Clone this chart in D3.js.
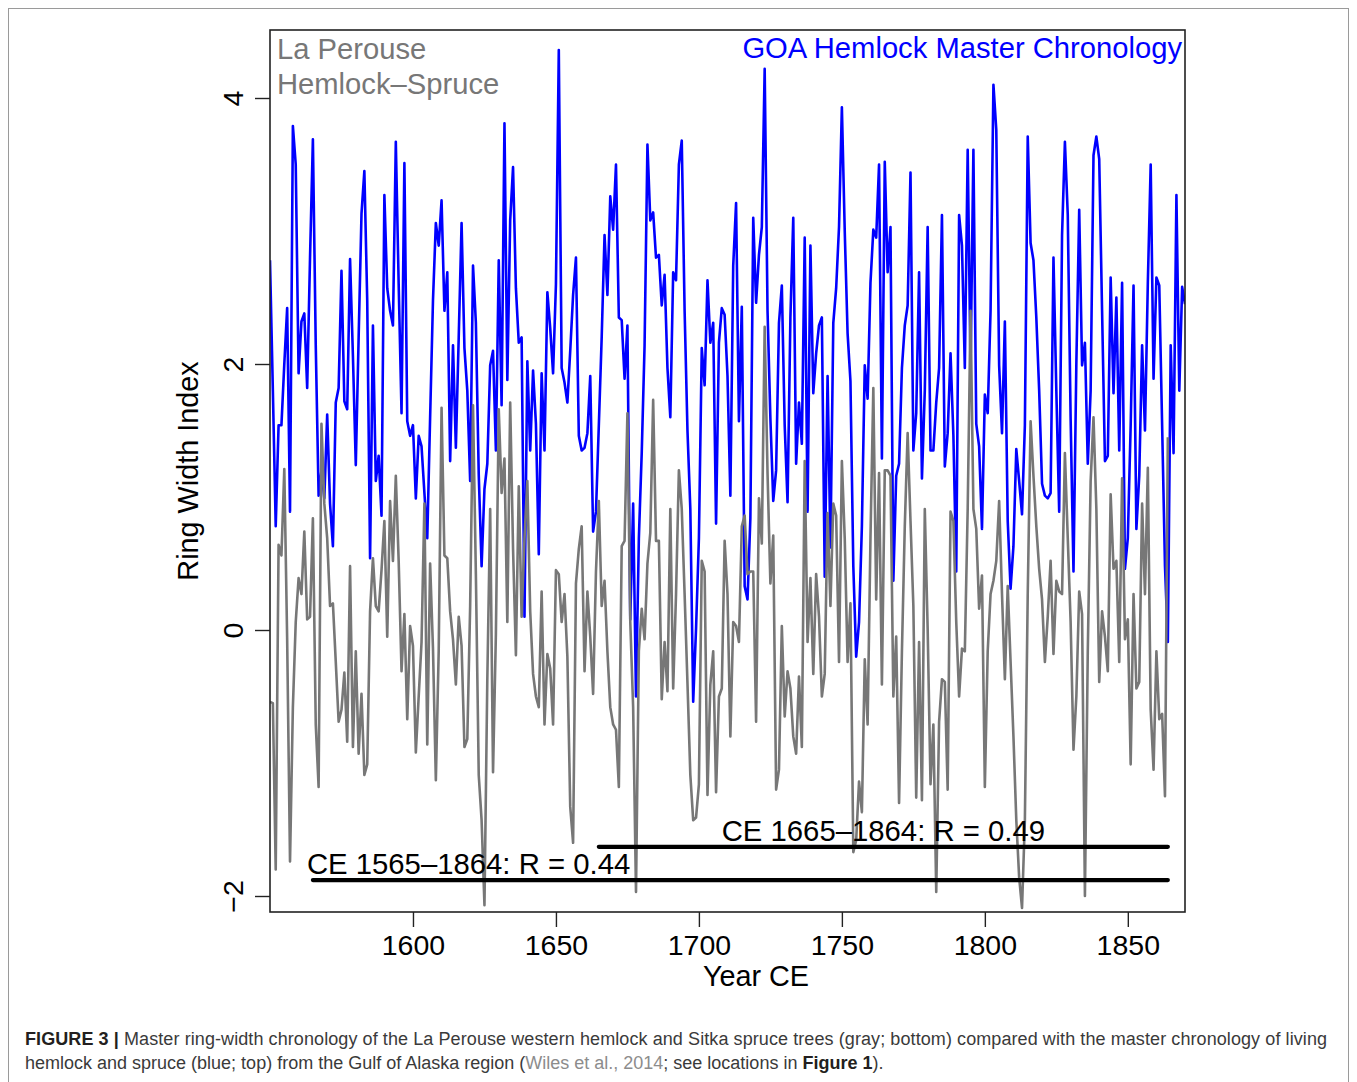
<!DOCTYPE html>
<html>
<head>
<meta charset="utf-8">
<script src="https://cdn.jsdelivr.net/npm/d3@7"></script>
<style>
  body { margin: 0; background: #fff; }
  svg { display: block; font-family: "Liberation Sans", Arial, Helvetica, sans-serif; }
</style>
</head>
<body>
<svg id="fig" width="1357" height="1082"></svg>
<script>

// GOA hemlock master chronology (blue), one value per year from 1550
var goaStart = 1550;
var goaIndex = [
  2.78, 1.8, 0.78, 1.54, 1.54, 2.0, 2.42, 0.89, 3.79, 3.50, 1.93, 2.32, 2.38, 1.82, 2.8, 3.69, 2.14, 1.01, 1.20, 0.99,
  1.62, 0.95, 0.63, 1.71, 1.82, 2.70, 1.72, 1.66, 2.79, 2.06, 1.24, 2.2, 3.13, 3.45, 2.48, 0.54, 2.29, 1.12, 1.31, 0.86,
  3.27, 2.57, 2.4, 2.29, 3.67, 2.6, 1.63, 3.51, 1.57, 1.46, 1.54, 0.99, 1.46, 1.38, 1.03, 0.69, 1.6, 2.48, 3.06, 2.89,
  3.23, 2.40, 2.69, 1.27, 2.14, 1.37, 2.2, 3.06, 2.12, 1.8, 1.12, 2.74, 2.31, 1.17, 0.48, 1.06, 1.25, 1.99, 2.10, 1.35,
  2.78, 1.69, 3.81, 1.88, 3.08, 3.48, 2.57, 2.16, 2.20, 0.10, 2.02, 1.35, 1.95, 1.55, 0.57, 1.93, 1.35, 2.54, 2.27, 1.93,
  2.6, 4.36, 1.97, 1.86, 1.71, 2.1, 2.52, 2.80, 1.46, 1.35, 1.37, 1.48, 1.91, 0.74, 0.89, 1.54, 2.2, 2.97, 2.52, 3.26,
  3.01, 3.50, 2.35, 2.33, 1.89, 2.29, 0.08, 0.95, -0.50, 0.69, 1.33, 2.14, 3.65, 3.08, 3.14, 2.80, 2.82, 2.44, 2.67, 1.97,
  1.60, 2.69, 2.63, 3.50, 3.68, 2.40, 1.5, 0.91, -0.54, 0.01, 0.69, 2.12, 1.84, 2.63, 2.16, 2.31, 0.80, 2.16, 2.42, 2.37,
  1.91, 1.01, 2.74, 3.21, 1.57, 2.43, 0.33, 0.23, 0.84, 3.10, 2.46, 2.82, 3.03, 4.22, 2.40, 1.59, 0.97, 1.20, 2.31, 2.59,
  1.54, 0.96, 2.35, 3.10, 1.25, 1.71, 1.40, 2.95, 0.89, 2.89, 1.78, 2.08, 2.29, 2.35, 0.40, 1.91, 0.62, 2.31, 2.57, 3.03,
  3.93, 3.0, 2.23, 1.87, 0.48, -0.20, 0.06, 0.78, 1.99, 1.74, 2.61, 3.01, 2.95, 3.50, 1.29, 3.52, 2.69, 3.03, 0.37, 1.16,
  1.25, 1.97, 2.29, 2.44, 3.44, 1.35, 1.63, 2.69, 1.14, 1.80, 3.03, 1.35, 1.35, 1.71, 1.97, 3.12, 1.23, 1.48, 2.08, 1.46,
  0.44, 3.12, 2.89, 1.97, 3.61, 1.97, 3.61, 1.55, 1.38, 0.76, 1.77, 1.63, 2.4, 4.10, 3.76, 1.99, 1.48, 2.32, 0.82, 0.31,
  0.63, 1.36, 1.12, 0.87, 1.54, 3.71, 2.91, 2.78, 2.35, 1.80, 1.10, 1.01, 0.99, 1.03, 2.80, 1.80, 0.89, 2.97, 3.67, 3.12,
  1.59, 0.44, 2.0, 3.16, 1.99, 2.16, 1.25, 1.80, 3.57, 3.71, 3.54, 2.40, 1.27, 1.31, 2.65, 1.78, 2.50, 1.35, 2.61, 0.46,
  0.69, 1.54, 2.59, 0.76, 1.16, 2.14, 1.50, 2.61, 3.50, 1.89, 2.65, 2.59, 1.54, 0.48, -0.09, 2.14, 1.33, 3.27, 1.80, 2.58,
  2.45
];

// La Perouse hemlock-spruce chronology (gray), one value per year from 1550
var lpStart = 1550;
var lpIndex = [
  -0.54, -0.55, -1.80, 0.64, 0.56, 1.21, -0.07, -1.74, -0.58, 0.06, 0.39, 0.27, 0.74, 0.08, 0.10, 0.84, -0.71, -1.18, 1.55, 0.95,
  0.69, 0.18, 0.20, -0.24, -0.69, -0.60, -0.32, -0.84, 0.48, -0.88, -0.16, -0.93, -0.48, -1.09, -1.01, 0.14, 0.54, 0.18, 0.14, 0.45,
  0.82, -0.05, 0.97, 0.52, 1.16, 0.52, -0.31, 0.12, -0.67, 0.03, -0.12, -0.92, -0.50, -0.09, 0.95, -0.86, 0.50, -0.14, -1.13, -0.16,
  1.67, 0.56, 0.54, 0.14, -0.07, -0.41, 0.10, -0.12, -0.88, -0.82, 0.18, 1.69, 0.42, -1.09, -1.43, -2.07, -0.37, 0.91, -1.07, -0.03,
  1.66, 1.03, 1.29, 0.06, 1.71, 0.61, -0.19, 1.08, 0.10, 0.69, 1.12, 0.14, -0.33, -0.50, -0.58, 0.29, -0.71, -0.18, -0.29, -0.71,
  0.45, 0.42, 0.06, 0.27, -0.20, -1.33, -1.60, 0.35, 0.61, 0.78, -0.31, 0.29, -0.05, -0.48, 0.44, 0.97, 0.18, 0.37, -0.16, -0.58,
  -0.71, -0.75, -1.18, 0.63, 0.67, 1.63, 0.06, -0.58, -1.97, -0.16, 0.16, -0.07, 0.50, 0.73, 1.73, 0.67, 0.67, -0.52, -0.09, -0.46,
  0.91, -0.44, 0.27, 1.20, 0.91, 0.27, -0.4, -1.09, -1.43, -1.41, -1.16, 0.52, 0.44, -1.24, -0.41, -0.16, -1.22, -0.50, -0.44, 0.67,
  0.27, -0.80, 0.06, 0.03, -0.09, 0.78, 0.86, 0.42, 0.44, 0.44, -0.69, 0.99, 0.65, 2.28, 1.18, 0.35, 0.71, -1.20, -1.05, 0.03,
  -0.65, -0.31, -0.44, -0.80, -0.93, -0.35, -0.88, 1.27, -0.09, 0.39, -0.33, 0.42, 0.10, -0.50, -0.33, 0.88, 0.18, 0.95, 0.86, -0.24,
  1.27, 0.69, -0.24, 0.20, -1.67, -1.58, -1.14, -1.37, -0.22, -0.71, 0.69, 1.82, 0.23, 1.18, -0.41, 1.20, 1.20, 1.16, -0.50, -0.05,
  -1.30, -0.16, 0.78, 1.48, 0.82, 0.18, -1.26, -0.09, -1.28, 0.91, 0.01, -1.16, -0.71, -1.97, -0.69, -0.37, -0.39, -1.20, 0.89, 0.82,
  0.06, -0.5, -0.14, -0.16, 0.91, 2.40, 0.91, 0.76, 0.16, 0.41, -1.18, -0.16, 0.27, 0.37, 0.52, 0.97, 0.27, -0.37, 0.33, -0.24,
  -0.80, -1.43, -1.86, -2.09, -1.43, 0.27, 1.57, 1.16, 0.78, 0.46, 0.23, -0.24, 0.10, 0.52, -0.18, 0.37, 0.29, 0.27, 1.33, 0.69,
  0.06, -0.9, -0.5, 0.29, 0.12, -2.0, -0.16, 1.12, 1.60, 0.91, -0.39, 0.14, -0.05, -0.31, 1.02, 0.46, 0.52, -0.24, 1.14, -0.07,
  0.08, -1.01, 0.27, -0.44, -0.39, 0.95, 0.27, 1.22, -0.60, -1.05, -0.16, -0.67, -0.63, -1.25, 1.45
];

var xTicks = [1600, 1650, 1700, 1750, 1800, 1850];
var yTicks = [-2, 0, 2, 4];

// correlation periods
var periodLabels = ['CE 1565\u20131864: R = 0.44', 'CE 1665\u20131864: R = 0.49'];
var periodStart = [1565, 1665];
var periodEnd = [1864, 1864];

var seriesNames = ['La Perouse', 'Hemlock\u2013Spruce'];
var goaName = 'GOA Hemlock Master Chronology';

var blue = '#0000ff', gray = '#777777';

var svg = d3.select('#fig');
var box = {left: 270, right: 1185, top: 30, bottom: 912};

var x = d3.scaleLinear().domain([1550, 1870]).range([box.left, box.right]);
var y = d3.scaleLinear().domain([-2, 4]).range([896, 98]);

// figure frame
svg.append('rect')
  .attr('x', 8.5).attr('y', 8.5)
  .attr('width', 1340).attr('height', 1090)
  .attr('fill', 'none').attr('stroke', '#9a9a9a').attr('stroke-width', 1);

svg.append('clipPath').attr('id', 'plotclip')
  .append('rect')
  .attr('x', box.left).attr('y', box.top)
  .attr('width', box.right - box.left).attr('height', box.bottom - box.top);

var plot = svg.append('g').attr('clip-path', 'url(#plotclip)');

var line = d3.line()
  .x(function(d) { return x(d[0]); })
  .y(function(d) { return y(d[1]); });

function toPairs(start, vals) {
  return vals.map(function(v, i) { return [start + i, v]; });
}

plot.append('path')
  .datum(toPairs(goaStart, goaIndex))
  .attr('d', line)
  .attr('fill', 'none').attr('stroke', blue).attr('stroke-width', 2.6)
  .attr('stroke-linejoin', 'round');

plot.append('path')
  .datum(toPairs(lpStart, lpIndex))
  .attr('d', line)
  .attr('fill', 'none').attr('stroke', gray).attr('stroke-width', 2.6)
  .attr('stroke-linejoin', 'round');

// correlation period bars
var barLevel = [-1.88, -1.63];
periodLabels.forEach(function(lab, i) {
  svg.append('line')
    .attr('x1', x(periodStart[i])).attr('x2', x(periodEnd[i]))
    .attr('y1', y(barLevel[i])).attr('y2', y(barLevel[i]))
    .attr('stroke', '#000').attr('stroke-width', 4.2).attr('stroke-linecap', 'round');
});
svg.append('text')
  .attr('x', x(periodStart[0]) - 6).attr('y', y(barLevel[0]) - 6)
  .attr('font-size', 29.3).attr('fill', '#000')
  .text(periodLabels[0]);
svg.append('text')
  .attr('x', x((periodStart[1] + periodEnd[1]) / 2)).attr('y', y(barLevel[1]) - 6)
  .attr('text-anchor', 'middle')
  .attr('font-size', 29.3).attr('fill', '#000')
  .text(periodLabels[1]);

// plot box
svg.append('rect')
  .attr('x', box.left).attr('y', box.top)
  .attr('width', box.right - box.left).attr('height', box.bottom - box.top)
  .attr('fill', 'none').attr('stroke', '#222').attr('stroke-width', 1.6);

// axes
var gx = svg.append('g')
  .attr('transform', 'translate(0,' + box.bottom + ')')
  .call(d3.axisBottom(x).tickValues(xTicks).tickFormat(d3.format('d'))
    .tickSize(15).tickSizeOuter(0).tickPadding(4));
gx.select('.domain').remove();
gx.attr('font-family', null);
gx.selectAll('line').attr('stroke', '#222').attr('stroke-width', 1.4);
gx.selectAll('text').attr('font-size', 28.5).attr('fill', '#000')
  .attr('y', 43).attr('dy', null);

var gy = svg.append('g')
  .attr('transform', 'translate(' + box.left + ',0)')
  .call(d3.axisLeft(y).tickValues(yTicks).tickFormat(d3.format('d'))
    .tickSize(15).tickSizeOuter(0));
gy.select('.domain').remove();
gy.attr('font-family', null);
gy.selectAll('line').attr('stroke', '#222').attr('stroke-width', 1.4);
gy.selectAll('text')
  .attr('x', null).attr('dy', null)
  .attr('font-size', 28.5).attr('fill', '#000')
  .attr('text-anchor', 'middle')
  .attr('transform', 'translate(-27,0) rotate(-90)')
  .text(function(d) { return d < 0 ? '\u2212' + Math.abs(d) : d; });

// axis titles
svg.append('text')
  .attr('transform', 'translate(198,' + (box.top + box.bottom) / 2 + ') rotate(-90)')
  .attr('text-anchor', 'middle').attr('font-size', 28.8)
  .text('Ring Width Index');
svg.append('text')
  .attr('x', 756).attr('y', 986)
  .attr('text-anchor', 'middle').attr('font-size', 28.8)
  .text('Year CE');

// series labels
svg.append('text')
  .attr('x', box.left + 7).attr('y', 59)
  .attr('font-size', 29.2).attr('fill', gray)
  .text(seriesNames[0]);
svg.append('text')
  .attr('x', box.left + 7).attr('y', 94)
  .attr('font-size', 29.2).attr('fill', gray)
  .text(seriesNames[1]);
svg.append('text')
  .attr('x', box.right - 3).attr('y', 58)
  .attr('text-anchor', 'end')
  .attr('font-size', 29.2).attr('fill', blue)
  .text(goaName);

// caption
var cap1 = svg.append('text')
  .attr('x', 25).attr('y', 1045).attr('font-size', 18).attr('fill', '#3a3a3a')
  .attr('textLength', 1302).attr('lengthAdjust', 'spacing');
cap1.append('tspan').attr('font-weight', 'bold').attr('fill', '#231f20').text('FIGURE 3 | ');
cap1.append('tspan').text('Master ring-width chronology of the La Perouse western hemlock and Sitka spruce trees (gray; bottom) compared with the master chronology of living');

var cap2 = svg.append('text')
  .attr('x', 25).attr('y', 1069).attr('font-size', 18).attr('fill', '#3a3a3a');
cap2.append('tspan').text('hemlock and spruce (blue; top) from the Gulf of Alaska region (');
cap2.append('tspan').attr('fill', '#8c8c8c').text('Wiles et al., 2014');
cap2.append('tspan').text('; see locations in ');
cap2.append('tspan').attr('font-weight', 'bold').attr('fill', '#231f20').text('Figure 1');
cap2.append('tspan').text(').');

</script>
</body>
</html>
